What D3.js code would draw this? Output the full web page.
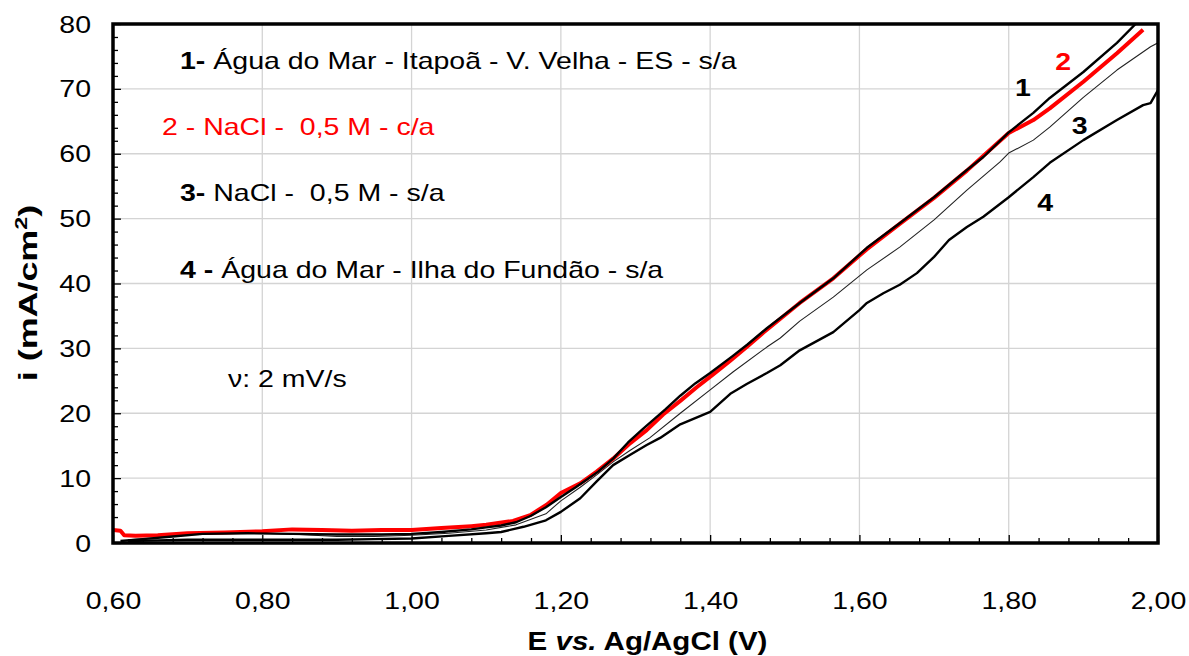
<!DOCTYPE html>
<html><head><meta charset="utf-8">
<script src="https://cdn.jsdelivr.net/npm/d3@7/dist/d3.min.js"></script>
<style>
html,body{margin:0;padding:0;background:#fff;}
svg text{font-family:"Liberation Sans",Arial,sans-serif;}
</style></head>
<body><svg id="chart" width="1189" height="656"></svg>
<script>
// ---- data ----
const xTicks = [0.6,0.8,1.0,1.2,1.4,1.6,1.8,2.0];
const xTickLabels = ["0,60","0,80","1,00","1,20","1,40","1,60","1,80","2,00"];
const yTicks = [0,10,20,30,40,50,60,70,80];

// Curve 1 - Água do Mar - Itapoã
const E1 = [0.61,0.64,0.68,0.72,0.78,0.84,0.90,0.96,1.00,1.04,1.08,1.10,1.12,1.14,1.16,1.18,1.20,1.22,1.25,1.27,1.29,1.31,1.34,1.36,1.38,1.40,1.43,1.45,1.476,1.52,1.565,1.61,1.654,1.70,1.744,1.766,1.80,1.833,1.855,1.90,1.945,1.97];
const I1 = [0.3,0.6,1.0,1.4,1.5,1.4,1.3,1.3,1.4,1.7,2.1,2.4,2.7,3.2,4.2,5.5,7.1,8.6,11.0,13.0,15.5,17.6,20.6,22.7,24.6,26.2,28.8,30.6,33.1,37.0,40.8,45.5,49.3,53.3,57.5,59.5,63.3,66.3,68.6,72.6,77.1,80.0];
// Curve 2 - NaCl 0,5 M c/a (red)
const E2 = [0.60,0.61,0.615,0.63,0.66,0.70,0.75,0.80,0.84,0.88,0.92,0.96,1.00,1.04,1.08,1.10,1.136,1.159,1.181,1.20,1.226,1.248,1.27,1.293,1.315,1.337,1.36,1.382,1.404,1.427,1.449,1.471,1.52,1.565,1.61,1.654,1.70,1.744,1.80,1.833,1.855,1.90,1.945,1.98];
const I2 = [2.0,1.9,1.2,1.1,1.2,1.5,1.6,1.8,2.1,2.0,1.9,2.0,2.0,2.3,2.6,2.8,3.4,4.3,5.9,7.7,9.2,11.0,13.0,15.4,17.4,19.8,21.9,24.0,26.0,28.1,30.2,32.4,37.0,40.8,45.3,49.2,53.2,57.4,63.2,65.2,67.0,71.1,75.5,79.1];
// Curve 3 - NaCl 0,5 M s/a (thin)
const E3 = [0.62,0.66,0.70,0.75,0.80,0.85,0.90,0.95,1.00,1.05,1.10,1.14,1.18,1.20,1.226,1.248,1.27,1.293,1.319,1.36,1.40,1.431,1.476,1.494,1.52,1.565,1.61,1.654,1.70,1.744,1.788,1.80,1.833,1.855,1.90,1.945,1.99,2.00];
const I3 = [0.5,0.8,1.3,1.5,1.5,1.3,1.0,1.0,1.2,1.5,2.0,2.8,4.5,6.5,8.6,10.5,12.5,14.3,16.2,20.0,23.6,26.4,30.2,31.6,34.2,37.9,42.1,45.6,49.8,54.4,58.7,60.1,62.1,64.1,68.7,72.9,76.5,77.1];
// Curve 4 - Água do Mar - Ilha do Fundão
const E4 = [0.62,0.66,0.70,0.80,0.90,0.95,1.00,1.05,1.10,1.12,1.15,1.18,1.20,1.226,1.248,1.27,1.293,1.315,1.333,1.36,1.40,1.427,1.449,1.476,1.494,1.52,1.565,1.60,1.61,1.632,1.654,1.677,1.70,1.72,1.744,1.766,1.80,1.833,1.855,1.90,1.945,1.98,1.99,2.00];
const I4 = [0.3,0.4,0.5,0.5,0.5,0.6,0.7,1.1,1.5,1.7,2.5,3.5,4.8,6.9,9.5,12.0,13.6,15.1,16.2,18.3,20.2,23.0,24.5,26.2,27.4,29.7,32.5,35.9,37.0,38.5,39.8,41.6,44.1,46.7,48.7,50.3,53.3,56.4,58.6,62.1,65.2,67.5,67.8,69.8];

const legendLines = [
  {num:"1-", rest:" Água do Mar - Itapoã - V. Velha - ES - s/a", color:"#000", numBold:true},
  {num:"2 - NaCl -  0,5 M - c/a", rest:"", color:"#ff0000", numBold:false},
  {num:"3-", rest:" NaCl -  0,5 M - s/a", color:"#000", numBold:true},
  {num:"4 -", rest:" Água do Mar - Ilha do Fundão - s/a", color:"#000", numBold:true}
];
const curveLabels = [
  {t:"1", e:1.819, i:68.9, color:"#000"},
  {t:"2", e:1.873, i:72.9, color:"#ff0000"},
  {t:"3", e:1.895, i:63.0, color:"#000"},
  {t:"4", e:1.849, i:51.2, color:"#000"}
];

// ---- layout ----
const L=113, R=1158, T=24, B=543;
const SX = 1.24;        // horizontal stretch of text in reference
const FS = 23;
const svg = d3.select("#chart");
const x = d3.scaleLinear().domain([0.6,2.0]).range([L,R]);
const y = d3.scaleLinear().domain([0,80]).range([B,T]);

function stretchText(sel, tx, ty, s){
  sel.attr("x",0).attr("y",0).attr("transform",`translate(${tx},${ty}) scale(${s},1)`);
  return sel;
}

// grid
const g = svg.append("g");
g.selectAll("line.vg").data(xTicks.slice(1,-1)).enter().append("line")
  .attr("x1",d=>x(d)).attr("x2",d=>x(d)).attr("y1",T).attr("y2",B)
  .attr("stroke","#d4d4d4").attr("stroke-width",1.3);
g.selectAll("line.hg").data(yTicks.slice(1,-1)).enter().append("line")
  .attr("y1",d=>y(d)).attr("y2",d=>y(d)).attr("x1",L).attr("x2",R)
  .attr("stroke","#d4d4d4").attr("stroke-width",1.3);

// axes with inward ticks
const xMinor = d3.range(0,36).map(k=>0.6+k*0.04).filter(v=>Math.abs((v-0.6)/0.2-Math.round((v-0.6)/0.2))>1e-6);
const yMinor = d3.range(0,41).map(k=>k*2).filter(v=>v%10!==0);
const xAxisMinor = d3.axisBottom(x).tickValues(xMinor).tickSize(-5).tickFormat("");
const xAxisMajor = d3.axisBottom(x).tickValues(xTicks).tickSize(-8).tickFormat((d,i)=>xTickLabels[i]);
const yAxisMinor = d3.axisLeft(y).tickValues(yMinor).tickSize(-5).tickFormat("");
const yAxisMajor = d3.axisLeft(y).tickValues(yTicks).tickSize(-8).tickFormat(d=>d);

function styleAxis(sel){
  sel.select(".domain").remove();
  sel.selectAll(".tick line").attr("stroke","#000").attr("stroke-width",1.3);
  sel.selectAll("text").attr("font-size",FS+"px").attr("fill","#000").attr("font-family","Liberation Sans, Arial, sans-serif");
}
svg.append("g").attr("transform",`translate(0,${B})`).call(xAxisMinor).call(styleAxis);
const gx = svg.append("g").attr("transform",`translate(0,${B})`).call(xAxisMajor).call(styleAxis);
gx.selectAll(".tick text").attr("dy",null).each(function(){ stretchText(d3.select(this),0,66,SX); });
svg.append("g").attr("transform",`translate(${L},0)`).call(yAxisMinor).call(styleAxis);
const gy = svg.append("g").attr("transform",`translate(${L},0)`).call(yAxisMajor).call(styleAxis);
gy.selectAll(".tick text").attr("dy",null).each(function(){ stretchText(d3.select(this),-22,8,SX); });

// clip
svg.append("clipPath").attr("id","clip").append("rect").attr("x",L).attr("y",T).attr("width",R-L).attr("height",B-T);

const line = d3.line().x(d=>x(d[0])).y(d=>y(d[1])).curve(d3.curveLinear);
const series = [
  {E:E4,I:I4,color:"#000",w:2.4},
  {E:E3,I:I3,color:"#222",w:1.1},
  {E:E2,I:I2,color:"#ff0000",w:4},
  {E:E1,I:I1,color:"#000",w:2.4}
];
const lg = svg.append("g").attr("clip-path","url(#clip)");
series.forEach(s=>{
  lg.append("path").datum(s.E.map((e,k)=>[e,s.I[k]]))
    .attr("d",line).attr("fill","none").attr("stroke",s.color).attr("stroke-width",s.w)
    .attr("stroke-linejoin","round");
});

// frame
svg.append("rect").attr("x",L).attr("y",T).attr("width",R-L).attr("height",B-T)
  .attr("fill","none").attr("stroke","#000").attr("stroke-width",3.5);

// legend text
const legendY = [69, 135, 201, 278];
const legendX = [180, 162, 180, 180];
legendLines.forEach((l,k)=>{
  const t = svg.append("text").attr("font-size",FS+"px").attr("fill",l.color).style("white-space","pre");
  stretchText(t, legendX[k], legendY[k], SX);
  t.append("tspan").attr("font-weight",l.numBold?"bold":"normal").text(l.num);
  if(l.rest) t.append("tspan").text(l.rest);
});
stretchText(svg.append("text").attr("font-size",FS+"px").attr("fill","#000").text("ν: 2 mV/s"), 228, 387, SX);

// curve labels
curveLabels.forEach(c=>{
  stretchText(svg.append("text").attr("text-anchor","middle")
    .attr("font-size",FS+"px").attr("font-weight","bold").attr("fill",c.color).text(c.t), x(c.e), y(c.i), SX);
});

// axis titles
const xt = svg.append("text").attr("text-anchor","middle")
  .attr("font-size","25px").attr("font-weight","bold").style("white-space","pre");
stretchText(xt, (L+R)/2+12, 650, 1.18);
xt.append("tspan").text("E ");
xt.append("tspan").attr("font-style","italic").text("vs.");
xt.append("tspan").text(" Ag/AgCl (V)");

const yt = svg.append("text").attr("text-anchor","middle").attr("font-size","26px").attr("font-weight","bold")
  .attr("transform",`translate(37,293) rotate(-90) scale(1.38,1)`);
yt.append("tspan").text("i (mA/cm");
yt.append("tspan").attr("font-size","17px").attr("dy","-10").text("2");
yt.append("tspan").attr("dy","10").text(")");
</script></body></html>
